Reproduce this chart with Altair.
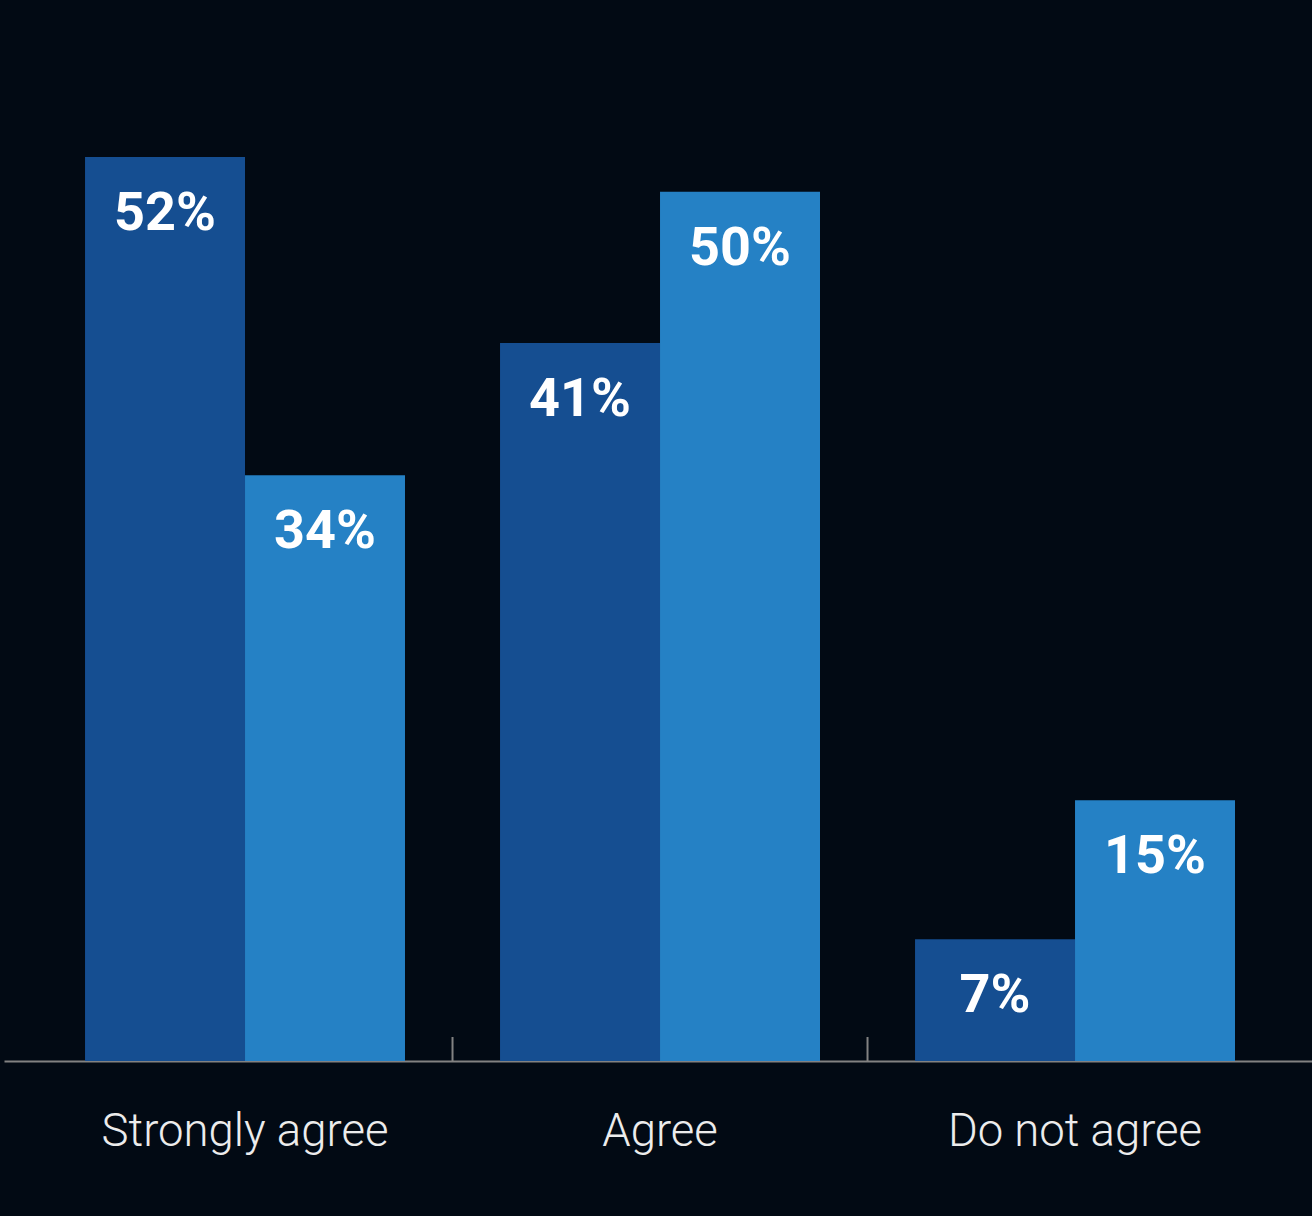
import altair as alt
import pandas as pd

categories = ["Strongly agree", "Agree", "Do not agree"]
series = ["Series 1", "Series 2"]
values_s1 = [52.0, 41.3, 7.0]
values_s2 = [33.7, 50.0, 15.0]
labels_s1 = ["52%", "41%", "7%"]
labels_s2 = ["34%", "50%", "15%"]
separators = ["Agree", "Do not agree"]

BG = "#020a14"
COLORS = ["#154e91", "#2581c5"]

rows = []
for c, v, l in zip(categories, values_s1, labels_s1):
    rows.append({"category": c, "series": series[0], "value": v, "label": l})
for c, v, l in zip(categories, values_s2, labels_s2):
    rows.append({"category": c, "series": series[1], "value": v, "label": l})
df = pd.DataFrame(rows)
sep_df = pd.DataFrame({"category": separators})

x_enc = alt.X(
    "category:N",
    sort=categories,
    scale=alt.Scale(paddingInner=0, paddingOuter=0.0759, align=0.532),
    axis=alt.Axis(
        title=None,
        labelAngle=0,
        ticks=False,
        tickSize=0,
        grid=False,
        domainColor="#828282",
        domainWidth=2,
        labelFont="Roboto",
        labelFontWeight=300,
        labelFontSize=45.5,
        labelColor="#ececec",
        labelPadding=84,
        labelBaseline="alphabetic",
        labelLimit=0,
    ),
)
xo_enc = alt.XOffset(
    "series:N", sort=series, scale=alt.Scale(paddingInner=0, paddingOuter=0.297)
)
y_enc = alt.Y("value:Q", axis=None, scale=alt.Scale(domain=[0, 60], nice=False))
color_enc = alt.Color(
    "series:N", sort=series, scale=alt.Scale(domain=series, range=COLORS), legend=None
)

bars = alt.Chart(df).mark_bar(strokeWidth=0).encode(
    x=x_enc, xOffset=xo_enc, y=y_enc, color=color_enc
)

text = alt.Chart(df).mark_text(
    baseline="alphabetic",
    align="center",
    dy=73,
    font="Roboto",
    fontWeight="bold",
    fontSize=54,
    color="#ffffff",
).encode(x=x_enc, xOffset=xo_enc, y=y_enc, text="label:N")

seps = alt.Chart(sep_df).mark_rule(color="#828282", strokeWidth=2).encode(
    x=alt.X("category:N", sort=categories, bandPosition=0),
    y=alt.value(1043),
    y2=alt.value(1019),
)

chart = (
    alt.layer(bars, text, seps)
    .properties(
        width=1308,
        height=1043,
        background=BG,
        padding={"left": 4, "top": 18, "right": 0, "bottom": 150},
        autosize=alt.AutoSizeParams(type="none"),
    )
    .configure_view(stroke=None)
)

chart.save(
    "out.html",
    embed_options={
        "renderer": "svg",
        "actions": False,
        "defaultStyle": "body{margin:0;padding:0;background:#020a14;overflow:hidden}",
    },
)
